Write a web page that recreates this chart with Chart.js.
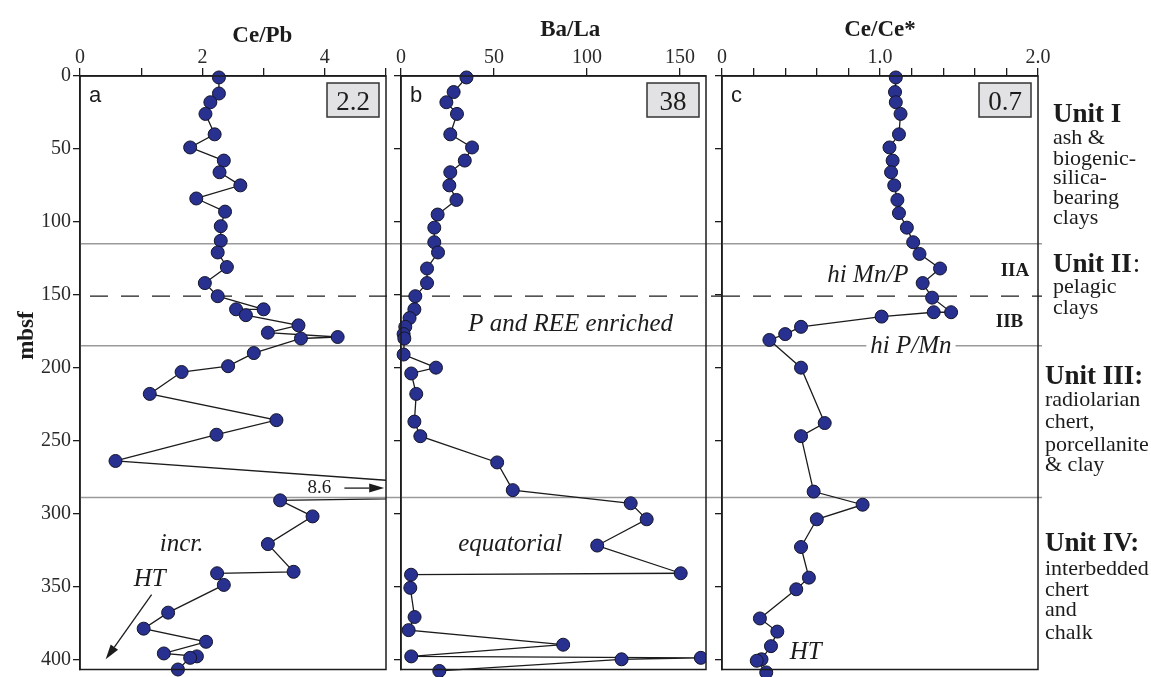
<!DOCTYPE html>
<html>
<head>
<meta charset="utf-8">
<title>Ce/Pb, Ba/La and Ce/Ce* versus depth</title>
<script src="https://cdn.jsdelivr.net/npm/chart.js@4.4.1/dist/chart.umd.min.js"></script>
<style>
  html, body { margin: 0; padding: 0; background: #fff; }
  #stage { position: relative; width: 1151px; height: 677px; }
  #stage canvas { position: absolute; left: 0; top: 0; }
</style>
</head>
<body>
<div id="stage">
  <canvas id="panel-a" width="1151" height="677"></canvas>
  <canvas id="panel-b" width="1151" height="677"></canvas>
  <canvas id="panel-c" width="1151" height="677"></canvas>
</div>
<script>
// ============================================================
// Three depth profiles side by side (Ce/Pb, Ba/La, Ce/Ce*)
// Each panel is its own Chart.js scatter chart (points joined
// in sample order) on a full-size canvas; the canvases are
// stacked and layout padding places each plot area.
// ============================================================

// ---- data -----------------------------------------------------
// panel a: Ce/Pb
const DEPTH_A = [1, 12, 18, 26, 40, 49, 58, 66, 75, 84, 93, 103, 113, 121, 131, 142, 151, 160, 160, 164,
                 171, 176, 179, 180, 190, 199, 203, 218, 236, 246, 264, 288, 291, 302, 321, 340, 341, 349, 368, 379,
                 388, 396, 398, 399, 407];
const CE_PB = [2.27, 2.27, 2.13, 2.05, 2.20, 1.80, 2.35, 2.28, 2.62, 1.90, 2.37, 2.30, 2.30, 2.25, 2.40, 2.04, 2.25, 3.00, 2.55, 2.71,
               3.57, 3.07, 4.21, 3.61, 2.84, 2.42, 1.66, 1.14, 3.21, 2.23, 0.58, 8.6, 3.27, 3.80, 3.07, 3.49, 2.24, 2.35, 1.44, 1.04,
               2.06, 1.37, 1.91, 1.80, 1.60];

// panel b: Ba/La
const DEPTH_B = [1, 11, 18, 26, 40, 49, 58, 66, 75, 85, 95, 104, 114, 121, 132, 142, 151, 160, 166, 172,
                 177, 180, 191, 200, 204, 218, 237, 247, 265, 284, 293, 304, 322, 341, 342, 351, 371, 380, 390, 398,
                 399, 400, 408];
const BA_LA = [35.2, 28.3, 24.4, 30.1, 26.5, 38.2, 34.3, 26.5, 26.0, 29.8, 19.7, 17.9, 17.9, 19.9, 14.0, 14.0, 7.7, 7.2, 4.6, 2.3,
               1.4, 1.8, 1.4, 18.8, 5.5, 8.2, 7.2, 10.4, 51.7, 60.1, 123.5, 132.1, 105.5, 150.4, 5.4, 5.0, 7.3, 4.1, 87.2, 5.5,
               161.2, 118.6, 20.6];

// panel c: Ce/Ce*
const DEPTH_C = [1, 11, 18, 26, 40, 49, 58, 66, 75, 85, 94, 104, 114, 122, 132, 142, 152, 162, 162, 165,
                 172, 177, 181, 200, 238, 247, 285, 294, 304, 323, 344, 352, 372, 381, 391, 400, 401, 409];
const CE_ANOMALY = [1.10, 1.095, 1.10, 1.13, 1.12, 1.06, 1.08, 1.07, 1.09, 1.11, 1.12, 1.17, 1.21, 1.25, 1.38, 1.27, 1.33, 1.45, 1.34, 1.01,
                    0.50, 0.40, 0.30, 0.50, 0.65, 0.50, 0.58, 0.89, 0.60, 0.50, 0.55, 0.47, 0.24, 0.35, 0.31, 0.25, 0.22, 0.28];

// tick labels (one entry per tick, "" = unlabelled tick)
const TICKS_A = ["0", "", "2", "", "4", ""];
const TICKS_B = ["0", "50", "100", "150"];
const TICKS_C = ["0", "", "", "", "", "1.0", "", "", "", "", "2.0"];
const DEPTH_LABELS = ["0", "50", "100", "150", "200", "250", "300", "350", "400"];
const DEPTH_STEP = 50;

// unit boundaries (mbsf): solid grey lines, dashed line = IIA/IIB
const UNIT_BOUNDARIES = [115, 185, 289];
const SUBUNIT_BOUNDARY = 151;
const DEPTH_MAX = 407;

// average value shown in the grey box of each panel
const AVERAGES = ["2.2", "38", "0.7"];

// ---- look --------------------------------------------------------
const SERIF = '"Liberation Serif", "Times New Roman", serif';
const SANS = '"Liberation Sans", Arial, sans-serif';
const INK = "#1c1c1c";
const TICK_INK = "#2a2a2a";
const GREY_LINE = "#9a9a9a";
const DOT_FILL = "#28318f";
const BOX_FILL = "#e2e2e4";

// in-plot notes, positioned in data units (x value, depth)
const NOTES_A = [
  { text: "incr.", x: 1.66, y: 325.6, font: `italic 25px ${SERIF}` },
  { text: "HT", x: 1.14, y: 349.5, font: `italic 25px ${SERIF}` },
  { text: "8.6", x: 3.91, y: 286, font: `19px ${SERIF}` },
];
const ARROWS_A = [
  { from: [4.32, 282.6], to: [4.97, 282.6] },
  { from: [1.17, 355.6], to: [0.42, 400] },
];
const NOTES_B = [
  { text: "P and REE enriched", x: 91.2, y: 174.7, font: `italic 25px ${SERIF}` },
  { text: "equatorial", x: 58.8, y: 325.6, font: `italic 25px ${SERIF}` },
];
const NOTES_C = [
  { text: "hi Mn/P", x: 0.924, y: 141.3, font: `italic 25px ${SERIF}` },
  { text: "hi P/Mn", x: 1.196, y: 189.8, font: `italic 25px ${SERIF}`, knockout: true },
  { text: "HT", x: 0.53, y: 400, font: `italic 25px ${SERIF}` },
  { text: "IIA", x: 1.854, y: 137.2, font: `bold 19px ${SERIF}` },
  { text: "IIB", x: 1.82, y: 172, font: `bold 19px ${SERIF}` },
];

// lithologic unit captions to the right of panel c (dx from plot edge, depth of baseline)
const UNIT_TEXT = [
  { text: "Unit I", dx: 15, y: 31.4, bold: true },
  { text: "ash &", dx: 15, y: 46.4 },
  { text: "biogenic-", dx: 15, y: 60.8 },
  { text: "silica-", dx: 15, y: 74.4 },
  { text: "bearing", dx: 15, y: 88.1 },
  { text: "clays", dx: 15, y: 101.7 },
  { text: "Unit II", tail: ":", dx: 15, y: 134.5, bold: true },
  { text: "pelagic", dx: 15, y: 148.8 },
  { text: "clays", dx: 15, y: 163.1 },
  { text: "Unit III:", dx: 7, y: 210.9, bold: true },
  { text: "radiolarian", dx: 7, y: 226.6 },
  { text: "chert,", dx: 7, y: 241.6 },
  { text: "porcellanite", dx: 7, y: 257.3 },
  { text: "& clay", dx: 7, y: 271 },
  { text: "Unit IV:", dx: 7, y: 325.6, bold: true },
  { text: "interbedded", dx: 7, y: 342 },
  { text: "chert", dx: 7, y: 356.3 },
  { text: "and", dx: 7, y: 370.6 },
  { text: "chalk", dx: 7, y: 386.3 },
];

// ---- the three panels: where their plot areas sit -------------------
const PANELS = [
  { id: "panel-a", letter: "a", title: "Ce/Pb", titleAt: 2.98, titleY: 42, average: AVERAGES[0],
    depths: DEPTH_A, values: CE_PB, xMax: 5, xStep: 1, ticks: TICKS_A,
    padLeft: 0, yWidth: 80, right: 386, dashStart: 10, lineEnd: 15,
    notes: NOTES_A, arrows: ARROWS_A, showDepthLabels: true },
  { id: "panel-b", letter: "b", title: "Ba/La", titleAt: 91, titleY: 36, average: AVERAGES[1],
    depths: DEPTH_B, values: BA_LA, xMax: 164, xStep: 50, ticks: TICKS_B,
    padLeft: 391, yWidth: 10, right: 706, dashStart: 0, lineEnd: 16,
    notes: NOTES_B, arrows: [] },
  { id: "panel-c", letter: "c", title: "Ce/Ce*", titleAt: 1.0, titleY: 36, average: AVERAGES[2],
    depths: DEPTH_C, values: CE_ANOMALY, xMax: 2, xStep: 0.2, ticks: TICKS_C,
    padLeft: 712, yWidth: 10, right: 1038, dashStart: 0, lineEnd: 4,
    notes: NOTES_C, arrows: [], units: UNIT_TEXT },
];

// ---- small drawing helpers -----------------------------------------
function drawText(ctx, text, x, y, font, align) {
  ctx.font = font;
  ctx.textAlign = align || "center";
  ctx.textBaseline = "alphabetic";
  ctx.fillStyle = INK;
  ctx.fillText(text, x, y);
}

function drawArrow(ctx, x1, y1, x2, y2) {
  const ang = Math.atan2(y2 - y1, x2 - x1);
  const len = 15, half = 4.5;
  ctx.strokeStyle = INK;
  ctx.lineWidth = 1.3;
  ctx.beginPath();
  ctx.moveTo(x1, y1);
  ctx.lineTo(x2 - Math.cos(ang) * len, y2 - Math.sin(ang) * len);
  ctx.stroke();
  ctx.fillStyle = INK;
  ctx.beginPath();
  ctx.moveTo(x2, y2);
  ctx.lineTo(x2 - Math.cos(ang) * len - Math.sin(ang) * half, y2 - Math.sin(ang) * len + Math.cos(ang) * half);
  ctx.lineTo(x2 - Math.cos(ang) * len + Math.sin(ang) * half, y2 - Math.sin(ang) * len - Math.cos(ang) * half);
  ctx.closePath();
  ctx.fill();
}

// Plugin: boundary lines under the data, frame + labels on top
function overlay(panel) {
  return {
    id: "overlay-" + panel.letter,
    beforeDatasetsDraw(chart) {
      const { ctx, chartArea: area, scales: { y } } = chart;
      ctx.save();
      ctx.strokeStyle = GREY_LINE;
      ctx.lineWidth = 1.5;
      for (const d of UNIT_BOUNDARIES) {
        const py = y.getPixelForValue(d);
        ctx.beginPath();
        ctx.moveTo(area.left, py);
        ctx.lineTo(area.right + panel.lineEnd, py);
        ctx.stroke();
      }
      const py = y.getPixelForValue(SUBUNIT_BOUNDARY);
      ctx.strokeStyle = INK;
      ctx.lineWidth = 1.2;
      ctx.setLineDash([18, 13]);
      ctx.beginPath();
      ctx.moveTo(area.left + panel.dashStart, py);
      ctx.lineTo(area.right + panel.lineEnd, py);
      ctx.stroke();
      ctx.restore();
    },
    afterDatasetsDraw(chart) {
      const { ctx, chartArea: area, scales: { x, y } } = chart;
      ctx.save();

      // closed frame round the plot area
      ctx.strokeStyle = INK;
      ctx.lineWidth = 1.5;
      ctx.strokeRect(area.left, area.top, area.right - area.left, area.bottom - area.top);

      // panel title above the axis
      drawText(ctx, panel.title, x.getPixelForValue(panel.titleAt), panel.titleY, `bold 23px ${SERIF}`);

      // panel letter, top-left
      drawText(ctx, panel.letter, area.left + 9, area.top + 26, `22px ${SANS}`, "left");

      // grey box with the average, top-right
      const bw = 52, bh = 34, bx = area.right - 7 - bw, by = area.top + 7;
      ctx.fillStyle = BOX_FILL;
      ctx.fillRect(bx, by, bw, bh);
      ctx.strokeStyle = "#333";
      ctx.lineWidth = 1.5;
      ctx.strokeRect(bx, by, bw, bh);
      drawText(ctx, panel.average, bx + bw / 2, by + 27, `27px ${SERIF}`);

      // notes inside the plot
      for (const n of panel.notes) {
        const px = x.getPixelForValue(n.x), py = y.getPixelForValue(n.y);
        if (n.knockout) {
          ctx.font = n.font;
          const w = ctx.measureText(n.text).width;
          ctx.fillStyle = "#fff";
          ctx.fillRect(px - w / 2 - 4, py - 18, w + 8, 24);
        }
        drawText(ctx, n.text, px, py, n.font);
      }
      for (const a of panel.arrows) {
        drawArrow(ctx, x.getPixelForValue(a.from[0]), y.getPixelForValue(a.from[1]),
                  x.getPixelForValue(a.to[0]), y.getPixelForValue(a.to[1]));
      }

      // y-axis title (only on the first panel)
      if (panel.showDepthLabels) {
        ctx.translate(25, y.getPixelForValue(178));
        ctx.rotate(-Math.PI / 2);
        drawText(ctx, "mbsf", 0, 8, `bold 23px ${SERIF}`);
        ctx.setTransform(1, 0, 0, 1, 0, 0);
      }

      // unit captions at the right
      if (panel.units) {
        for (const u of panel.units) {
          const px = area.right + u.dx, py = y.getPixelForValue(u.y);
          const font = u.bold ? `bold 27px ${SERIF}` : `22px ${SERIF}`;
          drawText(ctx, u.text, px, py, font, "left");
          if (u.tail) {
            ctx.font = font;
            const w = ctx.measureText(u.text).width;
            drawText(ctx, u.tail, px + w + 1, py, `27px ${SERIF}`, "left");
          }
        }
      }
      ctx.restore();
    },
  };
}

// ---- build one chart per panel --------------------------------------
function buildChart(panel) {
  const canvas = document.getElementById(panel.id);
  const points = panel.depths.map((d, i) => ({ x: panel.values[i], y: d }));

  return new Chart(canvas, {
    type: "scatter",
    data: {
      datasets: [{
        data: points,
        showLine: true,
        borderColor: INK,
        borderWidth: 1.3,
        pointRadius: 6.5,
        pointBackgroundColor: DOT_FILL,
        pointBorderColor: "#15152a",
        pointBorderWidth: 1,
        // clip exactly at the right edge so the 8.6 sample runs off the plot
        clip: { left: 8, top: 10, right: 0, bottom: 10 },
      }],
    },
    options: {
      responsive: false,
      animation: false,
      devicePixelRatio: 1,
      events: [],
      layout: { padding: { left: panel.padLeft, right: 1151 - panel.right, top: 0, bottom: 5 } },
      plugins: { legend: { display: false }, tooltip: { enabled: false } },
      scales: {
        x: {
          type: "linear",
          position: "top",
          min: 0,
          max: panel.xMax,
          ticks: {
            stepSize: panel.xStep,
            autoSkip: false,
            includeBounds: false,
            maxRotation: 0,
            padding: -2,
            color: TICK_INK,
            font: { family: SERIF, size: 20 },
            callback: (value, index) => panel.ticks[index] ?? "",
          },
          grid: { drawOnChartArea: false, tickLength: 8, color: INK, lineWidth: 1.3 },
          border: { display: true, color: INK, width: 1.5 },
          afterFit: (scale) => { scale.height = 76; scale.paddingLeft = 0; scale.paddingRight = 0; },
        },
        y: {
          type: "linear",
          position: "left",
          reverse: true,
          min: 0,
          max: DEPTH_MAX,
          ticks: {
            stepSize: DEPTH_STEP,
            includeBounds: false,
            autoSkip: false,
            display: !!panel.showDepthLabels,
            padding: 2,
            color: TICK_INK,
            font: { family: SERIF, size: 20 },
            // the tick list is reversed with the axis, so look labels up by value
            callback: (value) => DEPTH_LABELS[Math.round(value / DEPTH_STEP)] ?? "",
          },
          grid: { drawOnChartArea: false, tickLength: 7, color: INK, lineWidth: 1.3 },
          border: { display: true, color: INK, width: 1.5 },
          afterFit: (scale) => { scale.width = panel.yWidth; scale.paddingTop = 0; scale.paddingBottom = 0; },
        },
      },
    },
    plugins: [overlay(panel)],
  });
}

const charts = PANELS.map(buildChart);
</script>
</body>
</html>
